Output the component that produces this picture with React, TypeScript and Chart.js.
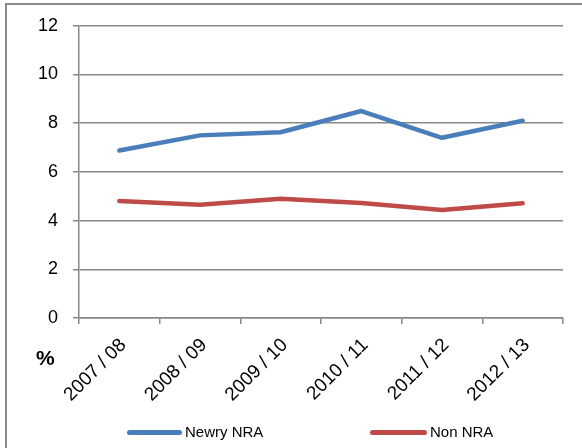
import React, { useEffect, useRef } from "react";
import { Chart, registerables } from "chart.js";

Chart.register(...registerables);

const categories = ["2007 / 08", "2008 / 09", "2009 / 10", "2010 / 11", "2011 / 12", "2012 / 13"];
const newryNRA = [6.88, 7.5, 7.63, 8.5, 7.4, 8.1];
const nonNRA = [4.8, 4.65, 4.9, 4.72, 4.44, 4.71];
const seriesNames = ["Newry NRA", "Non NRA"];
const seriesColors = ["#4a7ebb", "#be4b48"];

const FONT = "'Liberation Sans', Arial, sans-serif";
const GRID = "#888888";

export default function App() {
  const ref = useRef<HTMLCanvasElement | null>(null);

  useEffect(() => {
    if (!ref.current) return;
    const chart = new Chart(ref.current, {
      type: "line",
      data: {
        labels: categories,
        datasets: [
          {
            label: seriesNames[0],
            data: newryNRA,
            borderColor: seriesColors[0],
            backgroundColor: seriesColors[0],
            borderWidth: 4.5,
            pointRadius: 0,
            borderCapStyle: "round",
            borderJoinStyle: "round",
            tension: 0,
          },
          {
            label: seriesNames[1],
            data: nonNRA,
            borderColor: seriesColors[1],
            backgroundColor: seriesColors[1],
            borderWidth: 4.5,
            pointRadius: 0,
            borderCapStyle: "round",
            borderJoinStyle: "round",
            tension: 0,
          },
        ],
      },
      options: {
        responsive: false,
        animation: false,
        layout: { padding: { top: 25, left: 0, right: 19, bottom: 0 } },
        plugins: {
          legend: { display: false },
          tooltip: { enabled: false },
        },
        scales: {
          x: {
            offset: true,
            grid: {
              offset: true,
              drawOnChartArea: false,
              drawTicks: true,
              tickLength: 6,
              color: GRID,
              lineWidth: 1.5,
            },
            border: { display: true, color: GRID, width: 1.5 },
            ticks: {
              minRotation: 45,
              maxRotation: 45,
              autoSkip: false,
              padding: 10,
              labelOffset: 4,
              color: "#000",
              font: { family: FONT, size: 19 },
            },
            afterFit: (s: any) => {
              s.height = 130;
            },
          },
          y: {
            min: 0,
            max: 12,
            ticks: {
              stepSize: 2,
              padding: 15,
              color: "#000",
              font: { family: FONT, size: 18 },
            },
            grid: {
              drawTicks: true,
              tickLength: 6,
              color: GRID,
              lineWidth: 1.5,
            },
            border: { display: true, color: GRID, width: 1.5 },
            afterFit: (s: any) => {
              s.width = 79;
            },
          },
        },
      },
    });
    return () => chart.destroy();
  }, []);

  const legendItems = [
    { name: seriesNames[0], color: seriesColors[0], lineLeft: 127, textLeft: 185 },
    { name: seriesNames[1], color: seriesColors[1], lineLeft: 370, textLeft: 430 },
  ];

  return (
    <div style={{ position: "absolute", left: 0, top: 0, width: 582, height: 448, background: "#fff", overflow: "hidden" }}>
      <canvas ref={ref} width={582} height={448} style={{ position: "absolute", left: 0, top: 0 }} />
      <div
        style={{
          position: "absolute",
          left: 5,
          top: 3,
          width: 600,
          height: 500,
          borderLeft: "2px solid #8a8a8a",
          borderTop: "2px solid #8a8a8a",
          pointerEvents: "none",
        }}
      />
      <div
        style={{
          position: "absolute",
          left: 36,
          top: 346,
          fontFamily: FONT,
          fontWeight: "bold",
          fontSize: 21,
          color: "#000",
          lineHeight: "24px",
        }}
      >
        %
      </div>
      {legendItems.map((it) => (
        <React.Fragment key={it.name}>
          <div
            style={{
              position: "absolute",
              left: it.lineLeft,
              top: 430,
              width: it.textLeft - it.lineLeft - 3,
              height: 5,
              borderRadius: 3,
              background: it.color,
            }}
          />
          <div
            style={{
              position: "absolute",
              left: it.textLeft,
              top: 423,
              fontFamily: FONT,
              fontSize: 15,
              lineHeight: "18px",
              color: "#000",
              whiteSpace: "nowrap",
            }}
          >
            {it.name}
          </div>
        </React.Fragment>
      ))}
    </div>
  );
}
